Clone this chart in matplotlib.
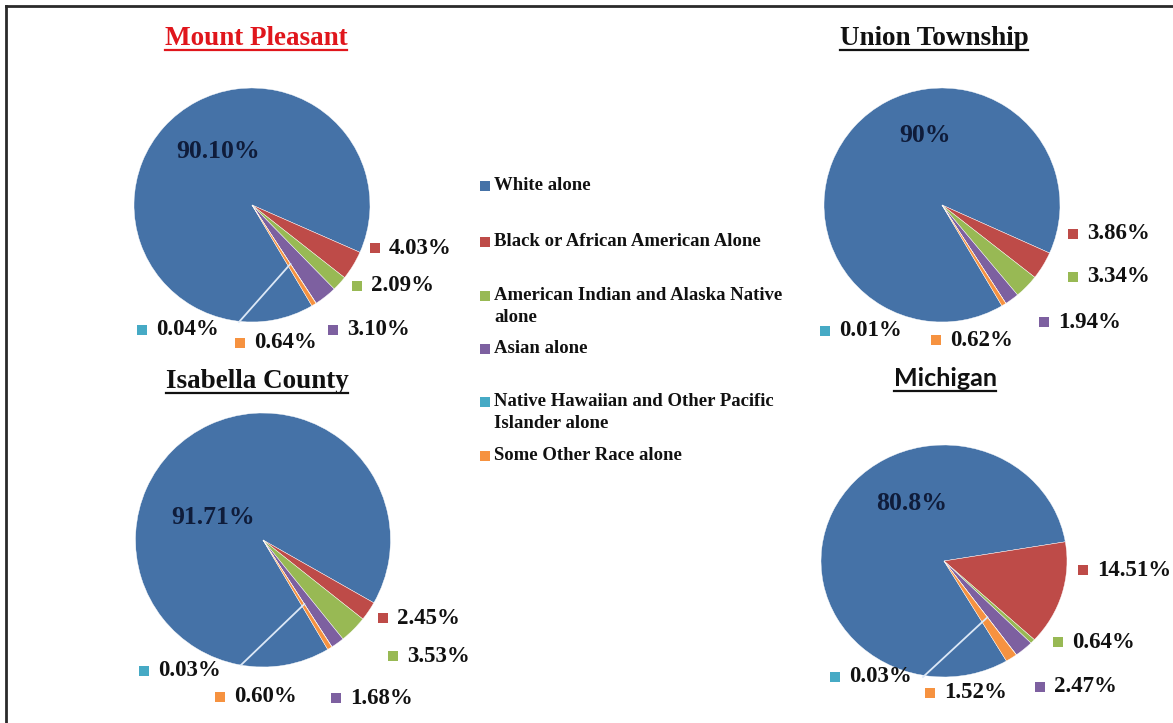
import numpy as np
import matplotlib.pyplot as plt
from matplotlib.lines import Line2D

# canvas size in pixels (dpi 100)
W, H = 1173, 723

# ---- data ----
categories = ["White alone",
              "Black or African American Alone",
              "American Indian and Alaska Native\nalone",
              "Asian alone",
              "Native Hawaiian and Other Pacific\nIslander alone",
              "Some Other Race alone"]
colors = ["#4572a7", "#be4b48", "#98b954", "#7d60a0", "#46aac5", "#f69240"]

places = ["Mount Pleasant", "Union Township", "Isabella County", "Michigan"]
mount_pleasant = [90.10, 4.03, 2.09, 3.10, 0.04, 0.64]
union_township = [90, 3.86, 3.34, 1.94, 0.01, 0.62]
isabella_county = [91.71, 2.45, 3.53, 1.68, 0.03, 0.60]
michigan = [80.8, 14.51, 0.64, 2.47, 0.03, 1.52]
white_labels = ["90.10%", "90%", "91.71%", "80.8%"]

series = [mount_pleasant, union_township, isabella_county, michigan]

# ---- layout (pixels, y measured from top) ----
pie_box = {  # cx, cy, w, h
    "Mount Pleasant": (252, 205, 236, 234),
    "Union Township": (942, 205, 236, 234),
    "Isabella County": (263, 540, 255, 254),
    "Michigan": (944, 561, 246, 232),
}
# marker positions of the small-slice labels (Black, AmInd, Asian, NHPI, Other)
label_pos = {
    "Mount Pleasant": [(375, 248), (357, 286), (333, 330), (142, 330), (240, 343)],
    "Union Township": [(1073, 234), (1073, 277), (1044, 322), (825, 331), (936, 340)],
    "Isabella County": [(383, 618), (393, 656), (336, 698), (144, 671), (220, 697)],
    "Michigan": [(1083, 570), (1058, 642), (1040, 687), (835, 677), (930, 693)],
}
white_pos = {
    "Mount Pleasant": (218, 152),
    "Union Township": (925, 135),
    "Isabella County": (213, 517),
    "Michigan": (912, 503),
}
leader_start = {
    "Mount Pleasant": (239, 322),
    "Isabella County": (241, 665),
    "Michigan": (923, 677),
}
title_pos = {
    "Mount Pleasant": (256, 45),
    "Union Township": (934, 45),
    "Isabella County": (257, 388),
    "Michigan": (945, 386),
}


def fx(x):
    return x / W


def fy(y):
    return 1 - y / H


serif = "Liberation Serif"
fig = plt.figure(figsize=(W / 100, H / 100), dpi=100)
fig.patch.set_facecolor("white")

for place, vals, wlab in zip(places, series, white_labels):
    cx, cy, w, h = pie_box[place]
    ax = fig.add_axes([fx(cx - w / 2), fy(cy + h / 2), w / W, h / H])
    wedges, _ = ax.pie(vals, colors=colors, startangle=-59.5, counterclock=False,
                       wedgeprops=dict(edgecolor="white", linewidth=0.3))
    ax.set_aspect("auto")
    ax.set_xlim(-1, 1)
    ax.set_ylim(-1, 1)

    # big slice label
    x, y = white_pos[place]
    fig.text(fx(x), fy(y), wlab, ha="center", va="center", fontsize=18.5,
             fontweight="bold", family=serif, color="#0f1c3a")

    # small slice labels with coloured square
    for i, (px, py) in enumerate(label_pos[place]):
        v = vals[i + 1]
        fig.add_artist(Line2D([fx(px)], [fy(py)], marker="s", ms=7.5, mew=0,
                              color=colors[i + 1], transform=fig.transFigure))
        fig.text(fx(px + 14), fy(py), f"{v:.2f}%", ha="left", va="center",
                 fontsize=16.5, fontweight="bold", family=serif, color="#111111")

    # leader line to the tiny Native Hawaiian slice
    if place in leader_start:
        wd = wedges[4]
        ang = np.deg2rad((wd.theta1 + wd.theta2) / 2)
        ex = cx + 0.6 * np.cos(ang) * w / 2
        ey = cy - 0.6 * np.sin(ang) * h / 2
        sx, sy = leader_start[place]
        fig.add_artist(Line2D([fx(sx), fx(ex)], [fy(sy), fy(ey)], color="#dce8f6",
                              lw=1.3, transform=fig.transFigure))

# titles, underlined
titles = []
for place in places:
    x, y = title_pos[place]
    if place == "Michigan":
        t = fig.text(fx(x), fy(y), place, ha="center", va="baseline", fontsize=18,
                     fontweight="bold", family="Lato", color="#111111")
    else:
        t = fig.text(fx(x), fy(y), place, ha="center", va="baseline", fontsize=19.5,
                     fontweight="bold", family=serif,
                     color="#e0161c" if place == "Mount Pleasant" else "#111111")
    titles.append((t, y))

fig.canvas.draw()
r = fig.canvas.get_renderer()
for t, y in titles:
    bb = t.get_window_extent(r)
    fig.add_artist(Line2D([bb.x0 / W, bb.x1 / W], [fy(y + 5), fy(y + 5)],
                          color=t.get_color(), lw=1.6, transform=fig.transFigure))

# legend, drawn by hand to keep the uneven spacing
legend_rows = [186, 242, 296, 349, 402, 456]
for lab, c, y in zip(categories, colors, legend_rows):
    fig.add_artist(Line2D([fx(485)], [fy(y)], marker="s", ms=6.5, mew=0, color=c,
                          transform=fig.transFigure))
    fig.text(fx(494), fy(y - 9), lab, ha="left", va="top", fontsize=13.5,
             fontweight="bold", family=serif, color="#111111", linespacing=1.4)

# frame lines of the original figure
fig.add_artist(Line2D([fx(6), 1], [fy(6), fy(6)], color="#2a2a2a", lw=2,
                      transform=fig.transFigure))
fig.add_artist(Line2D([fx(6), fx(6)], [fy(6), 0], color="#2a2a2a", lw=2,
                      transform=fig.transFigure))

fig.savefig("out.png", dpi=100)
